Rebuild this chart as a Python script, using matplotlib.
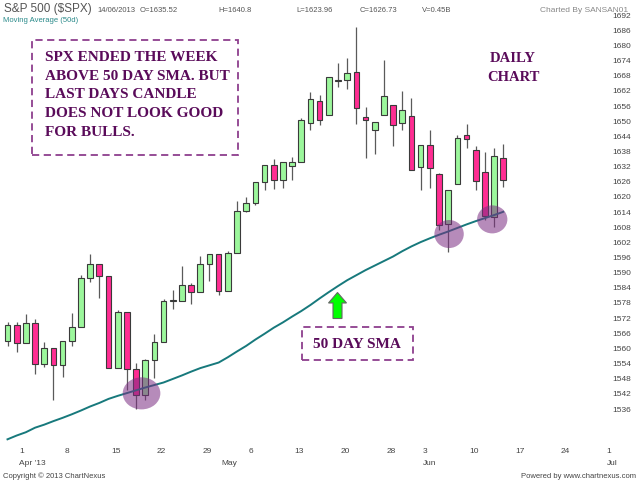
import matplotlib
matplotlib.use("Agg")
import matplotlib.pyplot as plt
from matplotlib.patches import Rectangle, Ellipse, Polygon
from matplotlib.transforms import ScaledTranslation

# daily candles, 28 Mar 2013 .. 14 Jun 2013 (trading days only)
dates = ["03-28", "04-01", "04-02", "04-03", "04-04", "04-05", "04-08", "04-09",
         "04-10", "04-11", "04-12", "04-15", "04-16", "04-17", "04-18", "04-19",
         "04-22", "04-23", "04-24", "04-25", "04-26", "04-29", "04-30", "05-01",
         "05-02", "05-03", "05-06", "05-07", "05-08", "05-09", "05-10", "05-13",
         "05-14", "05-15", "05-16", "05-17", "05-20", "05-21", "05-22", "05-23",
         "05-24", "05-28", "05-29", "05-30", "05-31", "06-03", "06-04", "06-05",
         "06-06", "06-07", "06-10", "06-11", "06-12", "06-13", "06-14"]
opens = [1562.86, 1569.18, 1562.17, 1570.25, 1553.69, 1559.98, 1553.26, 1563.11,
         1568.61, 1587.73, 1593.30, 1588.84, 1552.36, 1574.57, 1552.03, 1541.61,
         1555.25, 1562.50, 1578.78, 1578.93, 1585.16, 1582.34, 1593.58, 1597.55,
         1582.77, 1597.60, 1614.40, 1617.55, 1625.95, 1632.69, 1626.69, 1632.10,
         1633.75, 1649.13, 1658.07, 1652.45, 1665.71, 1666.20, 1669.39, 1651.62,
         1646.67, 1652.63, 1656.57, 1649.14, 1652.13, 1631.71, 1640.73, 1629.05,
         1609.29, 1625.27, 1644.67, 1638.64, 1629.94, 1612.15, 1635.52]
highs = [1570.28, 1570.57, 1573.66, 1571.47, 1562.60, 1559.98, 1563.07, 1573.89,
         1589.07, 1597.35, 1593.30, 1588.84, 1575.35, 1574.57, 1554.38, 1555.89,
         1565.55, 1579.58, 1583.00, 1592.64, 1585.78, 1596.65, 1597.57, 1597.55,
         1598.60, 1618.46, 1619.77, 1626.03, 1632.78, 1635.01, 1633.70, 1636.00,
         1651.10, 1661.49, 1660.51, 1667.47, 1672.84, 1674.93, 1687.18, 1655.50,
         1649.78, 1674.21, 1656.57, 1661.91, 1658.99, 1640.42, 1646.53, 1629.31,
         1622.56, 1644.40, 1648.69, 1640.13, 1637.71, 1639.25, 1640.80]
lows = [1561.08, 1558.47, 1562.17, 1549.80, 1552.52, 1539.50, 1548.63, 1560.92,
        1568.61, 1586.17, 1579.97, 1552.28, 1552.36, 1543.69, 1536.03, 1539.40,
        1548.19, 1562.50, 1575.80, 1578.93, 1577.56, 1582.34, 1586.50, 1581.28,
        1582.77, 1597.60, 1614.21, 1616.64, 1622.70, 1623.09, 1623.71, 1626.74,
        1633.75, 1646.68, 1648.60, 1652.45, 1663.52, 1662.67, 1648.86, 1635.53,
        1636.88, 1652.63, 1640.05, 1646.68, 1630.74, 1622.72, 1623.62, 1607.09,
        1598.23, 1625.27, 1639.26, 1622.92, 1610.92, 1608.07, 1623.96]
closes = [1569.19, 1562.17, 1570.25, 1553.69, 1559.98, 1553.28, 1563.07, 1568.61,
          1587.73, 1593.37, 1588.85, 1552.36, 1574.57, 1552.01, 1541.61, 1555.25,
          1562.50, 1578.78, 1578.79, 1585.16, 1582.24, 1593.61, 1597.57, 1582.70,
          1597.59, 1614.42, 1617.50, 1625.96, 1632.69, 1626.67, 1633.70, 1633.77,
          1650.34, 1658.78, 1650.47, 1667.47, 1666.29, 1669.16, 1655.35, 1650.51,
          1649.60, 1660.06, 1648.36, 1654.41, 1630.74, 1640.42, 1631.38, 1608.90,
          1622.56, 1643.38, 1642.81, 1626.13, 1612.52, 1636.36, 1626.73]
# 50 day simple moving average
sma50 = [1524.0, 1525.5, 1526.8, 1528.6, 1529.8, 1531.2, 1532.5, 1533.9,
         1535.4, 1537.0, 1538.4, 1540.0, 1541.2, 1542.3, 1543.4, 1544.5,
         1545.5, 1546.5, 1547.9, 1549.3, 1550.8, 1552.2, 1553.3, 1554.4,
         1556.5, 1558.8, 1561.0, 1563.5, 1565.8, 1568.2, 1570.3, 1572.6,
         1574.8, 1577.2, 1579.8, 1582.3, 1584.7, 1587.0, 1589.0, 1591.0,
         1592.8, 1594.6, 1596.4, 1598.5, 1600.4, 1602.1, 1603.6, 1605.0,
         1606.3, 1607.7, 1609.1, 1610.4, 1611.6, 1612.8, 1614.1]

week_ticks = [1, 6, 11, 16, 21, 26, 31, 36, 41, 45, 50, 55, 60, 65]
week_labels = ["1", "8", "15", "22", "29", "6", "13", "20", "28", "3", "10", "17", "24", "1"]
month_ticks = [1, 23, 45, 65]
month_labels = ["Apr '13", "May", "Jun", "Jul"]
price_ticks = [1536, 1542, 1548, 1554, 1560, 1566, 1572, 1578, 1584, 1590, 1596,
               1602, 1608, 1614, 1620, 1626, 1632, 1638, 1644, 1650, 1656, 1662,
               1668, 1674, 1680, 1686, 1692]

GREEN = "#9cf79c"
PINK = "#ff2d92"
NOTE = "#5a0b5a"
BOXC = "#8e3f8e"
SERIF = ["Liberation Serif", "DejaVu Serif"]
SANS = ["Liberation Sans", "DejaVu Sans"]


def fxy(x, y):
    # pixel position (from top-left) -> figure fraction
    return x / 640.0, 1 - y / 480.0


fig = plt.figure(figsize=(6.4, 4.8), dpi=100)
ax = fig.add_axes([0, 1 - 441 / 480, 608 / 640, (441 - 12) / 480])

xs = list(range(len(closes)))
bottoms = [min(o, c) for o, c in zip(opens, closes)]
heights = [max(abs(c - o), 0.35) for o, c in zip(opens, closes)]
colors = [GREEN if c >= o else PINK for o, c in zip(opens, closes)]

ax.vlines(xs, lows, highs, color="#5a5a5a", lw=0.9, zorder=2)
ax.bar(xs, heights, bottom=bottoms, width=0.62, color=colors,
       edgecolor="#3a3a3a", lw=0.8, zorder=3)
ax.plot(xs, sma50, color="#17797c", lw=1.4, zorder=4)

# highlight circles
for cx, cy, w, h in [(14.6, 1542.2, 4.1, 12.7), (48.1, 1605.3, 3.2, 11.1),
                     (52.8, 1611.1, 3.3, 11.1)]:
    ax.add_patch(Ellipse((cx, cy), w, h, facecolor="#7b2d82", alpha=0.55,
                         edgecolor="none", zorder=5))

ax.set_xlim(-0.817, 65.41)
ax.set_ylim(1523.33, 1693.23)
for s in ax.spines.values():
    s.set_visible(False)

ax.yaxis.tick_right()
ax.set_yticks(price_ticks)
ax.set_yticklabels([str(p) for p in price_ticks])
ax.tick_params(axis="y", length=0, pad=3, labelsize=6, labelcolor="#444444")

ax.xaxis.remove_overlapping_locs = False
ax.set_xticks(week_ticks)
ax.set_xticklabels(week_labels, ha="left")
ax.set_xticks(month_ticks, minor=True)
ax.set_xticklabels(month_labels, minor=True, ha="left")
ax.tick_params(axis="x", which="major", length=0, pad=5, labelsize=6, labelcolor="#444444")
ax.tick_params(axis="x", which="minor", length=0, pad=14, labelsize=6, labelcolor="#444444")
shift = ScaledTranslation(2.5 / 100, 0, fig.dpi_scale_trans)
for lab in ax.get_xticklabels(which="both"):
    lab.set_transform(lab.get_transform() + shift)
    lab.set_family(SANS)
for lab in ax.get_yticklabels():
    lab.set_family(SANS)

# header
fig.text(*fxy(4, 9), "S&P 500 ($SPX)", fontsize=8.5, color="#555555", va="center", family=SANS)
for x, t in [(97, "14/06/2013"), (140, "O=1635.52"), (218, "H=1640.8"),
             (296, "L=1623.96"), (360, "C=1626.73"), (422, "V=0.45B")]:
    fig.text(*fxy(x, 10), t, fontsize=5.5, color="#555555", va="center", family=SANS)
fig.text(*fxy(628, 10), "Charted By SANSAN01", fontsize=6, color="#888888",
         va="center", ha="right", family=SANS)
fig.text(*fxy(3, 21), "Moving Average (50d)", fontsize=5.5, color="#2a8a8a",
         va="center", family=SANS)

# footer
fig.text(*fxy(3, 476), "Copyright \u00a9 2013 ChartNexus", fontsize=5.5, color="#444444",
         va="center", family=SANS)
fig.text(*fxy(636, 476), "Powered by www.chartnexus.com", fontsize=5.5, color="#444444",
         va="center", ha="right", family=SANS)

# comment box
x0, y0 = fxy(32, 155)
x1, y1 = fxy(238, 40)
fig.add_artist(Rectangle((x0, y0), x1 - x0, y1 - y0, transform=fig.transFigure,
                         fill=False, edgecolor=BOXC, lw=1.3, ls=(0, (4, 2.5))))
fig.text(*fxy(45, 95),
         "SPX ENDED THE WEEK\nABOVE 50 DAY SMA. BUT\nLAST DAYS CANDLE\nDOES NOT LOOK GOOD\nFOR BULLS.",
         fontsize=11, fontweight="bold", color=NOTE, va="center", ha="left",
         linespacing=1.56, family=SERIF)

fig.text(*fxy(513, 68), "DAILY\nCHART", fontsize=10.5, fontweight="bold", color=NOTE,
         va="center", ha="center", linespacing=1.55, family=SERIF)

# 50 DAY SMA box
x0, y0 = fxy(302, 360)
x1, y1 = fxy(413, 327)
fig.add_artist(Rectangle((x0, y0), x1 - x0, y1 - y0, transform=fig.transFigure,
                         fill=False, edgecolor=BOXC, lw=1.3, ls=(0, (4, 2.5))))
fig.text(*fxy(357, 344), "50 DAY SMA", fontsize=11, fontweight="bold", color=NOTE,
         va="center", ha="center", family=SERIF)

# green arrow
arrow_px = [(337.5, 292.5), (346.5, 303), (342, 303), (342, 318.5),
            (333, 318.5), (333, 303), (328.5, 303)]
fig.add_artist(Polygon([fxy(px, py) for px, py in arrow_px], closed=True,
                       transform=fig.transFigure, facecolor="#00ff00",
                       edgecolor="#666666", lw=0.8))

fig.savefig("out.png", dpi=100)
